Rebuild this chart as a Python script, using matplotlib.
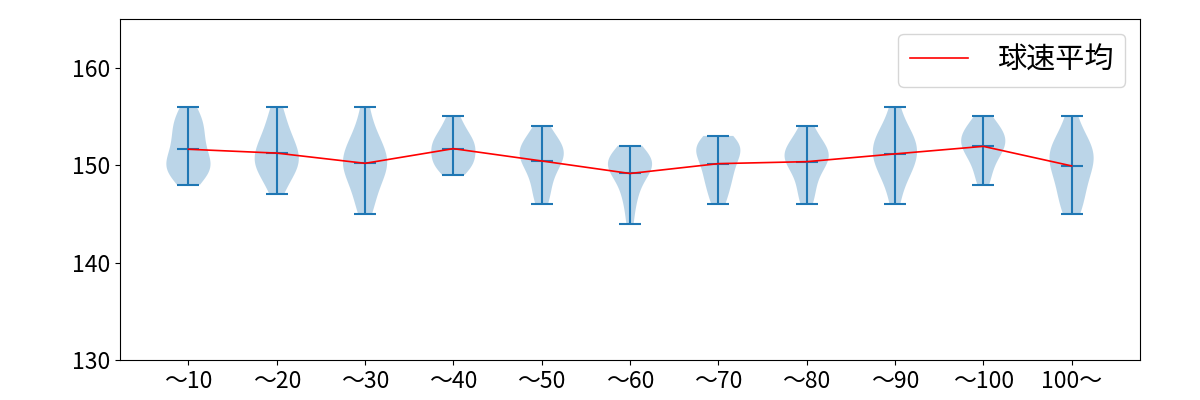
import matplotlib
matplotlib.use("Agg")
import matplotlib.pyplot as plt
import numpy as np

plt.rcParams['font.family'] = ['Noto Sans CJK JP', 'DejaVu Sans']

categories = ["〜10", "〜20", "〜30", "〜40", "〜50", "〜60", "〜70", "〜80", "〜90", "〜100", "100〜"]

speeds_10 = [148, 149, 149, 149, 150, 150, 150, 150, 151, 151, 152, 152, 153, 153, 154, 154, 155, 155, 156]
speeds_20 = [147, 148, 149, 149, 150, 150, 150, 151, 151, 151, 152, 152, 153, 153, 154, 155, 156]
speeds_30 = [145, 146, 147, 148, 149, 149, 150, 150, 150, 151, 151, 152, 152, 153, 154, 156]
speeds_40 = [149, 150, 150, 150, 151, 151, 152, 152, 152, 153, 153, 154, 155]
speeds_50 = [146, 147, 148, 149, 150, 150, 151, 151, 151, 152, 152, 152, 153, 154]
speeds_60 = [144, 146, 147, 148, 149, 149, 150, 150, 150, 150, 151, 151, 151, 152]
speeds_70 = [146, 147, 148, 149, 149, 150, 151, 151, 152, 152, 152, 152, 153]
speeds_80 = [146, 147, 148, 149, 150, 150, 151, 151, 151, 151, 152, 152, 153, 154]
speeds_90 = [146, 148, 149, 150, 150, 151, 151, 152, 152, 153, 153, 154, 156]
speeds_100 = [148, 149, 150, 151, 151, 152, 152, 152, 153, 153, 153, 154, 154, 155]
speeds_over = [145, 146, 147, 148, 149, 150, 150, 151, 151, 152, 152, 153, 155]

data = [speeds_10, speeds_20, speeds_30, speeds_40, speeds_50, speeds_60,
        speeds_70, speeds_80, speeds_90, speeds_100, speeds_over]

fig, ax = plt.subplots(figsize=(12, 4), dpi=100)
fig.subplots_adjust(left=0.1, right=0.95, bottom=0.1, top=0.9525)

positions = np.arange(1, len(categories) + 1)
ax.violinplot(data, positions=positions, showmeans=True, showextrema=True)
means = [np.mean(d) for d in data]
ax.plot(positions, means, color='red', linewidth=1.2, label='球速平均')

ax.set_ylim(130, 165)
ax.set_yticks([130, 140, 150, 160])
ax.set_xticks(positions)
ax.set_xticklabels(categories)
ax.tick_params(labelsize=16.5)
ax.legend(loc='upper right', fontsize=21, handletextpad=1.0)

fig.savefig("out.png")
